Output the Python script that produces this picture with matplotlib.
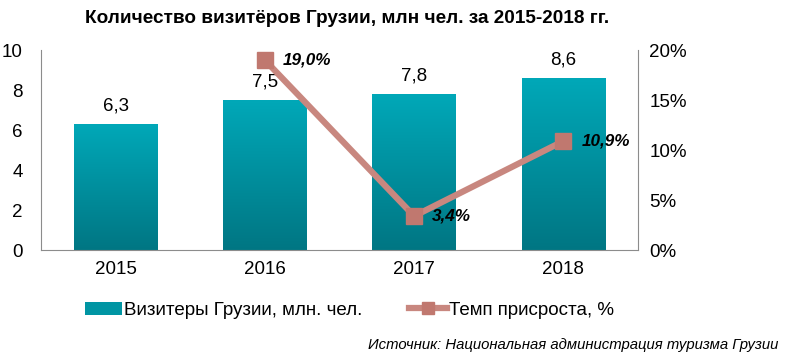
import numpy as np
import matplotlib
matplotlib.use("Agg")
from matplotlib import pyplot as plt
from matplotlib.colors import LinearSegmentedColormap

years = ["2015", "2016", "2017", "2018"]
visitors = [6.3, 7.5, 7.8, 8.6]
growth_years = ["2016", "2017", "2018"]
growth = [19.0, 3.4, 10.9]

plt.rcParams['font.family'] = ['Liberation Sans', 'DejaVu Sans']

fig = plt.figure(figsize=(7.94, 3.64), dpi=100)
ax = fig.add_axes([0.0516, 0.313, 0.752, 0.5494])

x = np.arange(len(years))
bars = ax.bar(x, visitors, width=0.56, color="#0095A3", zorder=2,
              label="Визитеры Грузии, млн. чел.")

# vertical gradient inside each bar
cmap = LinearSegmentedColormap.from_list("teal", ["#007683", "#00A8B8"])
grad = np.linspace(0, 1, 256).reshape(-1, 1)
for b in bars:
    bx, by = b.get_x(), b.get_y()
    im = ax.imshow(grad, cmap=cmap, aspect="auto", origin="lower",
                   extent=(bx, bx + b.get_width(), by, by + b.get_height()),
                   zorder=2.1)
    im.set_clip_path(b)

for xi, v in zip(x, visitors):
    ax.text(xi, v + 0.5, f"{v:.1f}".replace(".", ","), ha="center", va="bottom",
            fontsize=13.5, color="black")

ax.set_xlim(-0.5, len(years) - 0.5)
ax.set_ylim(0, 10)
ax.set_yticks(range(0, 11, 2))
ax.set_xticks(x)
ax.set_xticklabels(years)
ax.tick_params(axis="both", labelsize=13.5, length=0, pad=8)
ax.tick_params(axis="y", pad=13)
for s in ["top", "right"]:
    ax.spines[s].set_visible(False)
for s in ["left", "bottom"]:
    ax.spines[s].set_color("#8C8C8C")

ax2 = ax.twinx()
gx = [years.index(y) for y in growth_years]
line, = ax2.plot(gx, growth, color="#C8877F", lw=4.5, marker="s", ms=11,
                 mfc="#C0786F", mec="#C0786F", zorder=3,
                 label="Темп присроста, %")
ax2.set_ylim(0, 20)
ax2.set_yticks(range(0, 21, 5))
ax2.set_yticklabels([f"{t}%" for t in range(0, 21, 5)])
ax2.tick_params(axis="y", labelsize=13.5, length=0, pad=8)
for s in ["top", "left", "bottom"]:
    ax2.spines[s].set_visible(False)
ax2.spines["right"].set_color("#8C8C8C")

for xi, g in zip(gx, growth):
    ax2.annotate(f"{g:.1f}%".replace(".", ","), (xi, g), xytext=(13, 0),
                 textcoords="offset points", ha="left", va="center",
                 fontsize=12.3, fontweight="bold", fontstyle="italic")

fig.text(0.437, 0.95, "Количество визитёров Грузии, млн чел. за 2015-2018 гг.",
         ha="center", va="center", fontsize=13.7, fontweight="bold")

fig.legend([bars, line], [bars.get_label(), line.get_label()],
           loc="center", bbox_to_anchor=(0.44, 0.148), ncol=2, frameon=False,
           fontsize=13.5, handlelength=2.0, handletextpad=0.1, columnspacing=2.5,
           markerscale=0.8)

fig.text(0.98, 0.052, "Источник: Национальная администрация туризма Грузии",
         ha="right", va="center", fontsize=10.7, fontstyle="italic")

fig.savefig("out.png", dpi=100)
